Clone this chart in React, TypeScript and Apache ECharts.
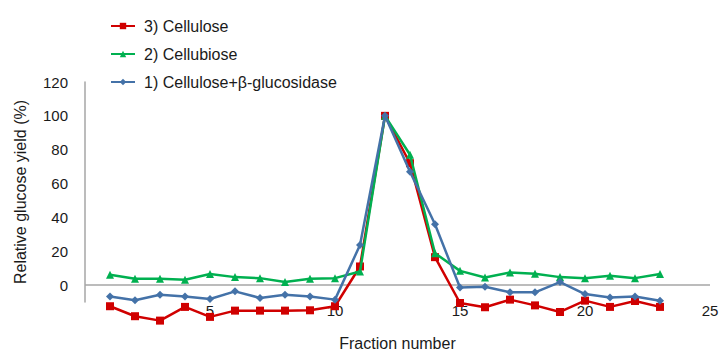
import React, { useEffect, useRef } from "react";
import * as echarts from "echarts";

const fractions = [1, 2, 3, 4, 5, 6, 7, 8, 9, 10, 11, 12, 13, 14, 15, 16, 17, 18, 19, 20, 21, 22, 23];
const cellulose = [-12.5, -18.4, -21, -12.9, -18.8, -15.1, -15.1, -15.1, -14.9, -12.5, 11, 100, 72, 16.5, -10.6, -13.1, -8.6, -12, -15.9, -9.2, -12.9, -9.4, -12.9];
const cellubiose = [6.1, 3.7, 3.7, 3.1, 6.5, 4.7, 4.1, 1.8, 3.7, 4.1, 8, 100, 77, 18.8, 8.4, 4.5, 7.4, 6.7, 4.7, 4.1, 5.5, 4.1, 6.5];
const celluloseBG = [-6.7, -9, -5.7, -6.7, -8.2, -3.7, -7.6, -5.7, -6.7, -8.6, 23.7, 100, 67, 35.9, -1.4, -1, -4.3, -4.3, 1.8, -5.3, -7.3, -6.7, -9.2];

const seriesNames = ["3) Cellulose", "2) Cellubiose", "1) Cellulose+β-glucosidase"];
const seriesColors = ["#D00000", "#00B050", "#4472A8"];

const toPairs = (vals: number[]) => vals.map((v, i) => [fractions[i], v]);

export default function App() {
  const ref = useRef<HTMLDivElement>(null);
  useEffect(() => {
    if (!ref.current) return;
    const chart = echarts.init(ref.current, null, { renderer: "svg" });
    const font = "Liberation Sans, Arial, sans-serif";
    const textColor = "#1a1a1a";
    chart.setOption({
      animation: false,
      textStyle: { fontFamily: font },
      legend: {
        orient: "vertical",
        left: 105,
        top: 13,
        itemGap: 12,
        itemWidth: 24,
        itemHeight: 8,
        textStyle: { fontSize: 16, color: textColor, fontFamily: font, padding: [0, 0, 0, 4] },
        data: seriesNames,
      },
      grid: { left: 85, right: 14, top: 82, bottom: 52 },
      xAxis: {
        type: "value",
        min: 0,
        max: 25,
        interval: 5,
        axisLine: { show: false },
        axisTick: { show: false },
        splitLine: { show: false },
        axisLabel: {
          margin: 1,
          fontSize: 15,
          color: textColor,
          fontFamily: font,
          formatter: (v: number) => (v === 0 ? "" : String(v)),
        },
        name: "Fraction number",
        nameLocation: "middle",
        nameGap: 33,
        nameTextStyle: { fontSize: 16, color: textColor, fontFamily: font },
      },
      yAxis: {
        type: "value",
        min: -10,
        max: 120,
        interval: 10,
        axisLine: { show: true, onZero: false, lineStyle: { color: "#A6A6A6", width: 1.5 } },
        axisTick: { show: false },
        splitLine: { show: false },
        axisLabel: {
          margin: 17,
          fontSize: 15,
          color: textColor,
          fontFamily: font,
          formatter: (v: number) => (v >= 0 && v % 20 === 0 ? String(v) : ""),
        },
        name: "Relative glucose yield (%)",
        nameLocation: "middle",
        nameGap: 57,
        nameTextStyle: { fontSize: 16, color: textColor, fontFamily: font },
      },
      series: [
        {
          name: seriesNames[0],
          type: "line",
          data: toPairs(cellulose),
          clip: false,
          symbol: "rect",
          symbolSize: 8,
          z: 3,
          color: seriesColors[0],
          lineStyle: { width: 2.5, color: seriesColors[0] },
          itemStyle: { color: seriesColors[0] },
          markLine: {
            silent: true,
            symbol: "none",
            label: { show: false },
            lineStyle: { color: "#A6A6A6", width: 1.5, type: "solid" },
            data: [[{ coord: [0, 0] }, { coord: [25, 0] }]],
            z: 1,
          },
        },
        {
          name: seriesNames[1],
          type: "line",
          data: toPairs(cellubiose),
          clip: false,
          symbol: "triangle",
          symbolSize: 8,
          z: 4,
          color: seriesColors[1],
          lineStyle: { width: 2.5, color: seriesColors[1] },
          itemStyle: { color: seriesColors[1] },
        },
        {
          name: seriesNames[2],
          type: "line",
          data: toPairs(celluloseBG),
          clip: false,
          symbol: "diamond",
          symbolSize: 8,
          z: 5,
          color: seriesColors[2],
          lineStyle: { width: 2.5, color: seriesColors[2] },
          itemStyle: { color: seriesColors[2] },
        },
      ],
    });
    return () => chart.dispose();
  }, []);
  return <div ref={ref} style={{ width: 724, height: 356, position: "absolute", left: 0, top: 0 }} />;
}
